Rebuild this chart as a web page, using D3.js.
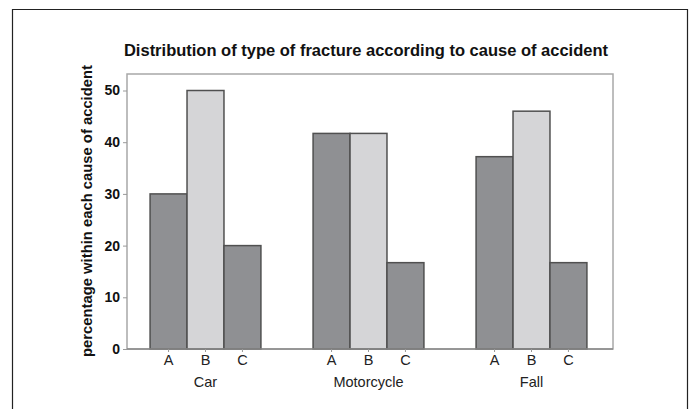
<!DOCTYPE html>
<html>
<head>
<meta charset="utf-8">
<script src="https://cdnjs.cloudflare.com/ajax/libs/d3/7.8.5/d3.min.js"></script>
<style>
  body { margin: 0; background: #fff; }
  svg { display: block; font-family: "Liberation Sans", Arial, sans-serif; }
</style>
</head>
<body>
<div id="grafico"></div>
<script>
// dados
var causas = ["Car", "Motorcycle", "Fall"];
var tipos = ["A", "B", "C"];
var valoresA = [30, 41.7, 37.2];
var valoresB = [50, 41.7, 46];
var valoresC = [20, 16.7, 16.7];
var ticksY = [0, 10, 20, 30, 40, 50];

var width = 692;
var height = 409;

var svg = d3.select("#grafico").append("svg")
    .attr("width", width)
    .attr("height", height);

// moldura externa (sem borda inferior)
svg.append("path")
    .attr("d", "M12.5,409 V9.5 H687.5 V409")
    .style("fill", "none")
    .style("stroke", "#222")
    .style("stroke-width", 1.2);

var plot = { left: 127, right: 613, top: 74, bottom: 349 };

var y = d3.scaleLinear()
    .domain([0, 50])
    .range([plot.bottom, 90.5]);

var x0 = d3.scaleBand()
    .domain(causas)
    .range([124, 613])
    .paddingInner(0.32)
    .paddingOuter(0.16);

var x1 = d3.scaleBand()
    .domain(tipos)
    .range([0, x0.bandwidth()]);

var cores = { A: "#8f9093", B: "#d5d5d7", C: "#8f9093" };

var dados = [];
causas.forEach(function (c, i) {
  dados.push({ causa: c, tipo: "A", valor: valoresA[i] });
  dados.push({ causa: c, tipo: "B", valor: valoresB[i] });
  dados.push({ causa: c, tipo: "C", valor: valoresC[i] });
});

// area do grafico
svg.append("rect")
    .attr("x", plot.left)
    .attr("y", plot.top)
    .attr("width", plot.right - plot.left)
    .attr("height", plot.bottom - plot.top)
    .style("fill", "#fff")
    .style("stroke", "#a8a8a8")
    .style("stroke-width", 1.5);

svg.selectAll("rect.barra")
    .data(dados)
    .enter()
    .append("rect")
    .attr("class", "barra")
    .attr("x", function (d) { return x0(d.causa) + x1(d.tipo); })
    .attr("y", function (d) { return y(d.valor); })
    .attr("width", x1.bandwidth())
    .attr("height", function (d) { return y(0) - y(d.valor); })
    .style("fill", function (d) { return cores[d.tipo]; })
    .style("stroke", "#505050")
    .style("stroke-width", 1.5);

// eixo y
var eixoY = svg.append("g")
    .attr("transform", "translate(" + plot.left + ",0)")
    .call(d3.axisLeft(y).tickValues(ticksY).tickSize(4).tickPadding(3));
eixoY.select(".domain").remove();
eixoY.selectAll("line").style("stroke", "#999");
eixoY.selectAll("text")
    .attr("font-family", "Liberation Sans, Arial, sans-serif")
    .attr("font-size", "14px")
    .attr("font-weight", "bold")
    .attr("fill", "#111");

// linha do zero
svg.append("line")
    .attr("x1", plot.left)
    .attr("x2", plot.right)
    .attr("y1", y(0))
    .attr("y2", y(0))
    .style("stroke", "#8a8a8a")
    .style("stroke-width", 1.5);

// eixo x: letras A B C
causas.forEach(function (c) {
  var g = svg.append("g")
      .attr("transform", "translate(" + x0(c) + "," + y(0) + ")")
      .call(d3.axisBottom(x1).tickSize(3).tickPadding(3));
  g.select(".domain").remove();
  g.selectAll("line").style("stroke", "#999");
  g.selectAll("text")
      .attr("font-family", "Liberation Sans, Arial, sans-serif")
      .attr("font-size", "14.5px")
      .attr("fill", "#222");
});

svg.selectAll("text.causa")
    .data(causas)
    .enter()
    .append("text")
    .attr("class", "causa")
    .attr("x", function (d) { return x0(d) + x0.bandwidth() / 2; })
    .attr("y", 387)
    .attr("text-anchor", "middle")
    .attr("font-size", "14.5px")
    .attr("fill", "#222")
    .text(function (d) { return d; });

// titulo
svg.append("text")
    .attr("x", 366)
    .attr("y", 56)
    .attr("text-anchor", "middle")
    .attr("font-size", "16.5px")
    .attr("font-weight", "bold")
    .attr("fill", "#111")
    .text("Distribution of type of fracture according to cause of accident");

svg.append("text")
    .attr("transform", "translate(92,211) rotate(-90)")
    .attr("text-anchor", "middle")
    .attr("font-size", "14.8px")
    .attr("font-weight", "bold")
    .attr("fill", "#111")
    .text("percentage within each cause of accident");
</script>
</body>
</html>
